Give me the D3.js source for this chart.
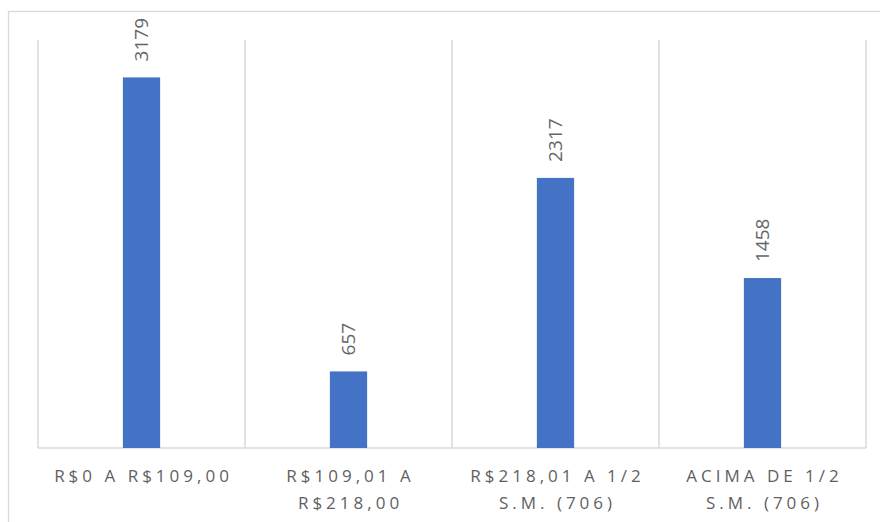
<!DOCTYPE html>
<html><head><meta charset="utf-8">
<script src="https://cdn.jsdelivr.net/npm/d3@7"></script>
<style>html,body{margin:0;padding:0;background:#fff;}svg{display:block;}</style>
</head><body>
<script>
const categories = [["R$0 A R$109,00"], ["R$109,01 A", "R$218,00"], ["R$218,01 A 1/2", "S.M. (706)"], ["ACIMA DE 1/2", "S.M. (706)"]];
const values = [3179, 657, 2317, 1458];
const yMax = 3500;

const W = 880, H = 522;
const svg = d3.select("body").append("svg").attr("width", W).attr("height", H);

// outer chart border
svg.append("rect").attr("x", 8.5).attr("y", 11.5).attr("width", 900).attr("height", 600)
  .attr("fill", "none").attr("stroke", "#d9d9d9").attr("stroke-width", 1.3);

const keys = categories.map((c, i) => i);
const x = d3.scaleBand().domain(keys).range([38, 866]).padding(0);
const y = d3.scaleLinear().domain([0, yMax]).range([448, 40]);

// vertical category separators
const bounds = keys.map(k => x(k)).concat([x(keys[keys.length - 1]) + x.bandwidth()]);
svg.append("g").selectAll("line").data(bounds).join("line")
  .attr("x1", d => d).attr("x2", d => d)
  .attr("y1", y(yMax)).attr("y2", y(0))
  .attr("stroke", "#d9d9d9").attr("stroke-width", 1.5);

// baseline
svg.append("line").attr("x1", x.range()[0]).attr("x2", x.range()[1])
  .attr("y1", y(0)).attr("y2", y(0))
  .attr("stroke", "#d9d9d9").attr("stroke-width", 1.5);

const bw = x.bandwidth() * 0.18;
svg.append("g").selectAll("rect").data(values).join("rect")
  .attr("x", (d, i) => x(i) + x.bandwidth() / 2 - bw / 2)
  .attr("width", bw)
  .attr("y", d => y(d))
  .attr("height", d => y(0) - y(d))
  .attr("fill", "#4472c4");

// value labels rotated
svg.append("g").selectAll("text").data(values).join("text")
  .attr("transform", (d, i) => `translate(${x(i) + x.bandwidth() / 2},${y(d) - 16}) rotate(-90)`)
  .attr("dy", "0.36em")
  .attr("text-anchor", "start")
  .attr("font-family", "'Open Sans', sans-serif")
  .attr("font-size", 19)
  .attr("fill", "#666666")
  .text(d => d);

// category labels
const cg = svg.append("g");
categories.forEach((lines, i) => {
  const t = cg.append("text")
    .attr("font-family", "'Open Sans', sans-serif")
    .attr("font-size", 17)
    .attr("letter-spacing", "4px")
    .attr("fill", "#5f5f5f")
    .attr("text-anchor", "middle");
  lines.forEach((ln, j) => {
    t.append("tspan").attr("x", x(i) + x.bandwidth() / 2 + 2).attr("y", 482 + j * 27).text(ln);
  });
});
</script>
</body></html>
